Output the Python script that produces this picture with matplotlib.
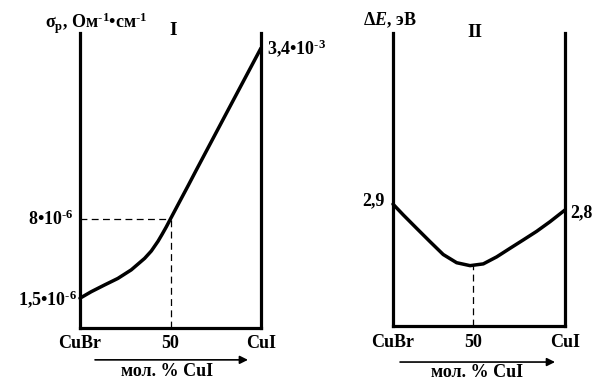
import matplotlib
matplotlib.use("Agg")
import matplotlib.pyplot as plt

plt.rcParams['font.family'] = ['Liberation Serif', 'DejaVu Serif']
plt.rcParams['font.weight'] = 'bold'
plt.rcParams['mathtext.fontset'] = 'custom'
plt.rcParams['mathtext.rm'] = 'Liberation Serif:bold'
plt.rcParams['mathtext.it'] = 'Liberation Serif:italic:bold'
plt.rcParams['mathtext.bf'] = 'Liberation Serif:bold'

# ---- data (schematic positions, axis units 0..100) ----
x_categories = ['CuBr', '50', 'CuI']

# Panel I: conductivity
x1 = [0, 6.2, 13.6, 20.9, 28.3, 35.7, 39.4, 43.1, 45.4, 47.7, 50.0, 55.1, 59.7, 64.3, 80.1, 100]
y1 = [10.1, 12.3, 14.6, 16.8, 19.7, 23.6, 26.1, 29.4, 31.8, 34.3, 37.0, 42.9, 48.2, 53.6, 71.9, 94.9]
x1_ticks = [0, 50, 100]
y1_marks = [10.1, 37.0, 94.9]
y1_labels = [r'$1{,}5•10^{‐6}$', r'$8•10^{‐6}$', r'$3{,}4•10^{‐3}$']
x1_mark = 50

# Panel II: band gap
x2 = [0, 6.0, 13.8, 21.5, 29.2, 37.0, 44.8, 52.5, 60.3, 68.0, 75.8, 83.5, 91.3, 100]
y2 = [41.6, 37.9, 33.3, 28.8, 24.4, 21.6, 20.6, 21.2, 23.6, 26.5, 29.4, 32.3, 35.6, 39.6]
x2_ticks = [0, 46.5, 100]
y2_marks = [41.6, 39.6]
y2_labels = ['2,9', '2,8']

fig = plt.figure(figsize=(5.95, 3.81), dpi=100)
ax1 = fig.add_axes([80/595, 1-328/381, 181/595, 295/381])
ax2 = fig.add_axes([393/595, 1-326/381, 172/595, 293/381])

FS = 13
for ax in (ax1, ax2):
    ax.set_xlim(0, 100)
    ax.set_ylim(0, 100)
    ax.spines['top'].set_visible(False)
    for s in ('left', 'right', 'bottom'):
        ax.spines[s].set_linewidth(2.3)
    ax.set_xticks([])
    ax.set_yticks([])
    ax.patch.set_alpha(0)

DASH = dict(color='black', lw=0.9, dashes=(5.5, 3.5))

# Panel I
ax1.plot(x1, y1, color='black', lw=2.5, solid_capstyle='round', solid_joinstyle='round', clip_on=False)
ax1.plot([0, x1_mark], [y1_marks[1], y1_marks[1]], **DASH)
ax1.plot([x1_mark, x1_mark], [0, y1_marks[1]], **DASH)

for xv, lab in zip(x1_ticks, x_categories):
    ax1.text(xv, -0.051, lab, transform=ax1.get_xaxis_transform(), ha='center', va='center', fontsize=FS, fontweight='bold')
ax1.annotate(y1_labels[0], (0, y1_marks[0]), xytext=(-3, -1), textcoords='offset pixels', ha='right', va='center', fontsize=FS)
ax1.annotate(y1_labels[1], (0, y1_marks[1]), xytext=(-6, 0), textcoords='offset pixels', ha='right', va='center', fontsize=FS)
ax1.annotate(y1_labels[2], (100, y1_marks[2]), xytext=(6, 0), textcoords='offset pixels', ha='left', va='center', fontsize=FS)
ax1.text(0.088, 1.034, r'$\mathrm{σ}_{\mathrm{р}}$, Ом$^{‐1}$•см$^{‐1}$', transform=ax1.transAxes,
         ha='center', va='center', fontsize=FS)
ax1.text(0.514, 1.01, 'I', transform=ax1.transAxes, ha='center', va='center', fontsize=14, fontweight='bold')
ax1.annotate('', xy=(0.928, -0.108), xytext=(0.083, -0.108), xycoords='axes fraction',
             arrowprops=dict(arrowstyle='-|>', lw=1.2, color='black', mutation_scale=12, shrinkA=0, shrinkB=0))
ax1.text(0.48, -0.149, 'мол. % CuI', transform=ax1.transAxes, ha='center', va='center', fontsize=FS, fontweight='bold')

# Panel II
ax2.plot(x2, y2, color='black', lw=2.5, solid_capstyle='round', solid_joinstyle='round', clip_on=False)
ax2.plot([x2_ticks[1], x2_ticks[1]], [0, min(y2)], **DASH)
for xv, lab in zip(x2_ticks, x_categories):
    ax2.text(xv, -0.058, lab, transform=ax2.get_xaxis_transform(), ha='center', va='center', fontsize=FS, fontweight='bold')
ax2.annotate(y2_labels[0], (0, y2_marks[0]), xytext=(-8, 3), textcoords='offset pixels', ha='right', va='center', fontsize=FS, fontweight='bold')
ax2.annotate(y2_labels[1], (100, y2_marks[1]), xytext=(5, -3), textcoords='offset pixels', ha='left', va='center', fontsize=FS, fontweight='bold')
ax2.text(-0.017, 1.044, r'$\Delta \mathit{E}$, эВ', transform=ax2.transAxes, ha='center', va='center', fontsize=FS)
ax2.text(0.477, 1.003, 'II', transform=ax2.transAxes, ha='center', va='center', fontsize=14, fontweight='bold')
ax2.annotate('', xy=(0.942, -0.123), xytext=(0.041, -0.123), xycoords='axes fraction',
             arrowprops=dict(arrowstyle='-|>', lw=1.2, color='black', mutation_scale=12, shrinkA=0, shrinkB=0))
ax2.text(0.488, -0.160, 'мол. % CuI', transform=ax2.transAxes, ha='center', va='center', fontsize=FS, fontweight='bold')

fig.savefig('out.png', dpi=100)
